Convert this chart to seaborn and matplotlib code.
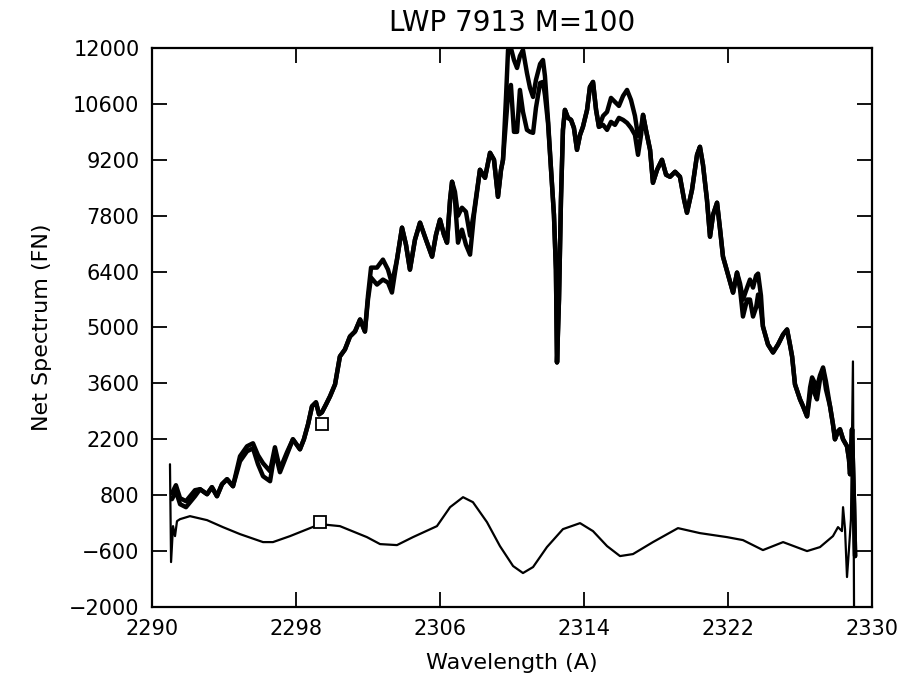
import numpy as np
import pandas as pd
import matplotlib
matplotlib.use('Agg')
import matplotlib.pyplot as plt
import seaborn as sns

# wavelength knots (A)
wave = [2291.11, 2291.33, 2291.56, 2291.89, 2292.39, 2292.67, 2293.06, 2293.33, 2293.61, 2293.89,
        2294.17, 2294.5, 2294.89, 2295.28, 2295.61, 2295.89, 2296.17, 2296.56, 2296.83, 2297.11,
        2297.5, 2297.83, 2298.22, 2298.44, 2298.67, 2298.89, 2299.11, 2299.28, 2299.44, 2299.67,
        2299.89, 2300.17, 2300.44, 2300.72, 2301.0, 2301.28, 2301.56, 2301.83, 2302.0, 2302.17,
        2302.5, 2302.83, 2303.11, 2303.33, 2303.61, 2303.89, 2304.11, 2304.33, 2304.61, 2304.89,
        2305.22, 2305.56, 2305.78, 2306.0, 2306.22, 2306.39, 2306.56, 2306.67, 2306.83, 2307.0,
        2307.22, 2307.44, 2307.67, 2307.89, 2308.22, 2308.5, 2308.78, 2309.0, 2309.22, 2309.39,
        2309.5, 2309.67, 2309.78, 2309.94, 2310.11, 2310.28, 2310.44, 2310.61, 2310.83, 2311.0,
        2311.17, 2311.33, 2311.56, 2311.72, 2311.83, 2312.0, 2312.17, 2312.33, 2312.44, 2312.5,
        2312.61, 2312.72, 2312.83, 2312.94, 2313.11, 2313.28, 2313.44, 2313.61, 2313.78, 2313.94,
        2314.17, 2314.33, 2314.5, 2314.67, 2314.83, 2315.06, 2315.28, 2315.5, 2315.72, 2315.94,
        2316.17, 2316.39, 2316.61, 2316.83, 2317.0, 2317.17, 2317.28, 2317.44, 2317.67, 2317.83,
        2318.06, 2318.33, 2318.56, 2318.78, 2319.06, 2319.33, 2319.56, 2319.72, 2320.0, 2320.28,
        2320.44, 2320.61, 2320.83, 2321.0, 2321.17, 2321.39, 2321.56, 2321.72, 2322.0, 2322.28,
        2322.5, 2322.67, 2322.83, 2323.06, 2323.22, 2323.39, 2323.56, 2323.67, 2323.83, 2323.94,
        2324.22, 2324.5, 2324.78, 2325.06, 2325.28, 2325.44, 2325.56, 2325.72, 2326.0, 2326.17,
        2326.39, 2326.56, 2326.67, 2326.83, 2326.94, 2327.11, 2327.28, 2327.44, 2327.67, 2327.83,
        2327.94, 2328.11, 2328.22, 2328.39, 2328.61, 2328.72, 2328.78, 2328.89, 2329.0, 2329.06]

# net spectrum, first extraction (FN)
net_a = [700, 900, 575, 500, 775, 950, 825, 1000, 775, 1075,
         1200, 1025, 1650, 1900, 1975, 1575, 1275, 1150, 1900, 1375,
         1825, 2200, 1950, 2200, 2575, 3025, 3125, 2825, 2875, 3075,
         3275, 3575, 4275, 4450, 4775, 4900, 5200, 4900, 5700, 6250,
         6075, 6200, 6125, 5875, 6700, 7500, 7075, 6450, 7200, 7625,
         7200, 6775, 7325, 7700, 7325, 7125, 8200, 8650, 8200, 7125,
         7450, 7075, 6825, 7825, 8950, 8750, 9375, 9200, 8275, 8950,
         9200, 10200, 10825, 11075, 9900, 9900, 10950, 10400, 9950, 9900,
         9875, 10500, 11125, 11150, 10825, 10125, 8950, 7825, 6450, 4125,
         5700, 8200, 9950, 10450, 10250, 10200, 10000, 9450, 9825, 10025,
         10450, 11025, 11150, 10450, 10025, 10075, 9950, 10150, 10075, 10250,
         10200, 10125, 10000, 9825, 9325, 9825, 10325, 9950, 9450, 8625,
         8950, 9200, 8825, 8775, 8900, 8775, 8200, 7875, 8450, 9325,
         9525, 9075, 8200, 7275, 7825, 8125, 7450, 6775, 6325, 5875,
         6375, 5950, 5275, 5700, 5700, 5275, 5500, 5825, 5450, 5025,
         4575, 4375, 4575, 4825, 4950, 4575, 4275, 3575, 3200, 3025,
         2775, 3325, 3650, 3325, 3200, 3700, 3950, 3450, 3025, 2575,
         2200, 2400, 2450, 2200, 2025, 1700, 1325, 2450, 575, -725]

# net spectrum, second extraction (FN)
net_b = [850, 1050, 725, 650, 925, 950, 825, 1000, 775, 1075,
         1200, 1025, 1775, 2025, 2100, 1800, 1600, 1400, 2000, 1450,
         1875, 2200, 1950, 2200, 2575, 3025, 3125, 2825, 2875, 3075,
         3275, 3575, 4275, 4450, 4775, 4900, 5200, 4900, 5800, 6500,
         6500, 6700, 6450, 6100, 6700, 7500, 7075, 6450, 7200, 7625,
         7200, 6775, 7325, 7700, 7325, 7125, 8200, 8650, 8400, 7800,
         8000, 7900, 7300, 7900, 8950, 8750, 9375, 9200, 8275, 8950,
         9200, 10800, 11950, 12000, 11700, 11500, 11800, 11950, 11375, 11000,
         10775, 11200, 11600, 11700, 11300, 10200, 8950, 7825, 6450, 4125,
         5700, 8200, 9950, 10450, 10250, 10200, 10000, 9450, 9825, 10025,
         10450, 11025, 11150, 10450, 10025, 10300, 10400, 10750, 10650, 10550,
         10800, 10950, 10700, 10300, 9800, 10000, 10325, 9950, 9450, 8625,
         8950, 9200, 8825, 8775, 8900, 8775, 8200, 7875, 8450, 9325,
         9525, 9075, 8200, 7275, 7825, 8125, 7450, 6775, 6325, 5875,
         6375, 6100, 5700, 6000, 6200, 6000, 6300, 6350, 5800, 5025,
         4575, 4375, 4575, 4825, 4950, 4575, 4275, 3575, 3200, 3025,
         2775, 3500, 3750, 3600, 3500, 3800, 4000, 3650, 3025, 2575,
         2200, 2400, 2450, 2200, 2025, 1700, 1325, 2450, 575, -725]

# smooth background curve
bg_wave = [2291.0, 2291.06, 2291.17, 2291.28, 2291.39, 2291.56, 2292.11, 2293.06, 2293.94, 2294.89,
           2296.17, 2296.72, 2297.67, 2299.33, 2300.44, 2301.94, 2302.67, 2303.61, 2304.5, 2305.83,
           2306.56, 2307.28, 2307.83, 2308.61, 2309.33, 2310.06, 2310.61, 2311.17, 2311.94, 2312.83,
           2313.78, 2314.5, 2315.28, 2316.0, 2316.72, 2317.83, 2319.22, 2320.44, 2321.94, 2322.83,
           2323.94, 2325.06, 2326.39, 2327.11, 2327.83, 2328.11, 2328.33, 2328.39, 2328.5, 2328.61,
           2328.72, 2328.83, 2328.94, 2329.0]
bg_flux = [1575, -875, 25, -225, 150, 200, 275, 175, 0, -175,
           -375, -375, -225, 75, 25, -250, -425, -450, -250, 25,
           500, 750, 625, 125, -475, -975, -1150, -1000, -500, -50,
           100, -100, -475, -725, -675, -375, -25, -150, -250, -325,
           -575, -375, -600, -500, -225, 0, -100, 500, -50, -1250,
           -550, 200, 4150, -1975]

# square markers
mark_wave = [2299.44, 2299.33]
mark_flux = [2575, 125]

xticks = [2290, 2298, 2306, 2314, 2322, 2330]
yticks = [-2000, -600, 800, 2200, 3600, 5000, 6400, 7800, 9200, 10600, 12000]

sns.set_style('ticks')
plt.rcParams['font.family'] = ['DejaVu Sans']
plt.rcParams['text.color'] = 'black'
plt.rcParams['axes.labelcolor'] = 'black'

spec = pd.DataFrame({'wave': wave, 'a': net_a, 'b': net_b})
bg = pd.DataFrame({'wave': bg_wave, 'flux': bg_flux})

fig = plt.figure(figsize=(9.03, 6.84), dpi=100)
ax = fig.add_axes([0.1683, 0.1126, 0.7974, 0.8172])

sns.lineplot(data=spec, x='wave', y='b', ax=ax, color='black', linewidth=3.2,
             sort=False, estimator=None)
sns.lineplot(data=spec, x='wave', y='a', ax=ax, color='black', linewidth=3.2,
             sort=False, estimator=None)
sns.lineplot(data=bg, x='wave', y='flux', ax=ax, color='black', linewidth=1.6,
             sort=False, estimator=None)
ax.plot(mark_wave, mark_flux, linestyle='none', marker='s', markersize=8,
        markerfacecolor='white', markeredgecolor='black', markeredgewidth=1.3)

ax.set_xlim(2290, 2330)
ax.set_ylim(-2000, 12000)
ax.set_xticks(xticks)
ax.set_yticks(yticks)
ax.tick_params(direction='in', length=11, width=1.3, top=True, right=True,
               labelsize=15, colors='black')
ax.tick_params(axis='x', pad=9)
ax.tick_params(axis='y', pad=9)
for s in ax.spines.values():
    s.set_linewidth(1.6)
    s.set_color('black')

ax.set_xlabel('Wavelength (A)', fontsize=16, labelpad=10, color='black')
ax.set_ylabel('Net Spectrum (FN)', fontsize=16, labelpad=12, color='black')
ax.set_title('LWP 7913 M=100', fontsize=20, pad=12, color='black')

fig.savefig('out.png', dpi=100)
